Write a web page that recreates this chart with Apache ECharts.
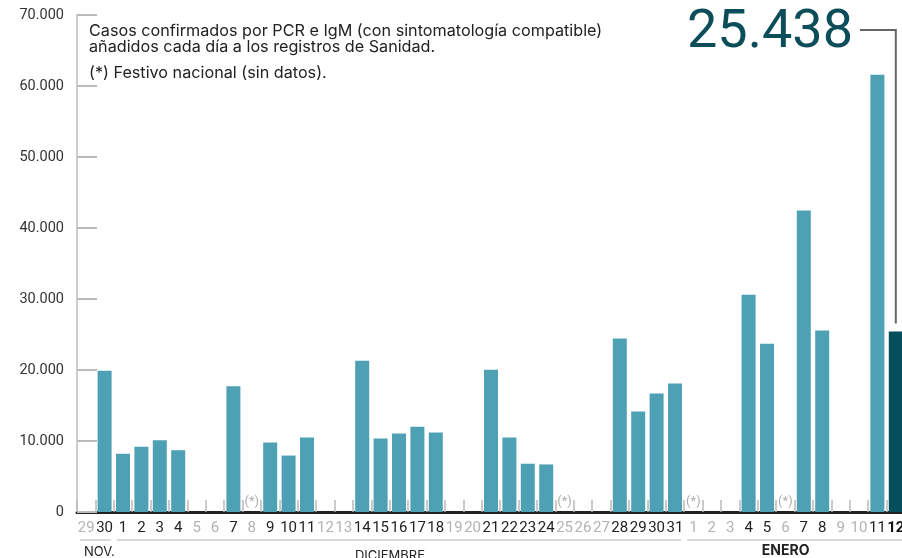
<!DOCTYPE html>
<html>
<head>
<meta charset="utf-8">
<script src="https://cdn.jsdelivr.net/npm/echarts@6/dist/echarts.min.js"></script>
<style>
html,body{margin:0;padding:0;background:#fff;}
#chart{width:902px;height:558px;}
</style>
</head>
<body>
<div id="chart"></div>
<script>
// Day labels (29 Nov 2020 – 12 Jan 2021)
const days = ['29','30',
  '1','2','3','4','5','6','7','8','9','10','11','12','13','14','15','16','17','18','19','20','21','22','23','24','25','26','27','28','29','30','31',
  '1','2','3','4','5','6','7','8','9','10','11','12'];
// New confirmed cases per day (null = no report)
const cases = [null, 19900,
  8200, 9200, 10100, 8700, null, null, 17700, null, 9800, 7950, 10500, null, null,
  21300, 10350, 11050, 12000, 11200, null, null, 20050, 10500, 6800, 6700, null, null, null,
  24450, 14150, 16700, 18100,
  null, null, null, 30600, 23700, null, 42450, 25550, null, null, 61600, 25438];
// National holidays (index in days)
const holidays = [9, 26, 33, 38];
// Month groups
const monthNames = ['NOV.', 'DICIEMBRE', 'ENERO'];
const monthStart = [0, 2, 33];
const monthEnd = [1, 32, 44];
const yTicks = [0, 10000, 20000, 30000, 40000, 50000, 60000, 70000];

const FONT = 'Roboto';
const TFONT = 'Inter';
const fmt = v => String(v).replace(/\B(?=(\d{3})+(?!\d))/g, '.');
const lastIdx = cases.length - 1;

const chart = echarts.init(document.getElementById('chart'));
const option = {
  animation: false,
  backgroundColor: '#fff',
  grid: { left: 77, top: 15, width: 828, height: 497, outerBoundsMode: 'none', containLabel: false },
  xAxis: {
    type: 'category',
    data: days,
    boundaryGap: true,
    axisLine: { show: true, lineStyle: { color: '#222', width: 3 } },
    axisTick: { show: true, inside: true, length: 12, interval: 0, lineStyle: { color: '#bbb', width: 1.5 } },
    axisLabel: {
      interval: 0, margin: 9,
      formatter: (v, i) => i === lastIdx ? '{k|' + v + '}' : (cases[i] == null ? '{g|' + v + '}' : '{b|' + v + '}'),
      rich: {
        g: { color: '#b3b3b3', fontSize: 15, fontFamily: FONT },
        b: { color: '#222', fontSize: 15, fontFamily: FONT },
        k: { color: '#111', fontSize: 15, fontFamily: FONT, fontWeight: 'bold' }
      }
    },
    splitLine: { show: false }
  },
  yAxis: {
    type: 'value', min: yTicks[0], max: yTicks[yTicks.length - 1], interval: yTicks[1] - yTicks[0],
    axisLine: { show: true, lineStyle: { color: '#ccc', width: 2 } },
    axisTick: { show: true, inside: true, length: 20, lineStyle: { color: '#bbb', width: 2 } },
    axisLabel: { margin: 13, color: '#333', fontSize: 14.5, fontFamily: FONT, formatter: v => fmt(v) },
    splitLine: { show: false }
  },
  series: [
    {
      type: 'bar',
      barWidth: 14,
      z: 3,
      itemStyle: { color: '#4ea1b5' },
      data: cases.map((v, i) => i === lastIdx ? { value: v, itemStyle: { color: '#044f5b' } } : v)
    },
    {
      type: 'scatter',
      symbolSize: 0,
      z: 4,
      data: holidays.map(i => [i, 0]),
      label: { show: true, position: 'top', distance: 4, formatter: '(*)', color: '#999', fontSize: 13, fontFamily: FONT }
    }
  ]
};
chart.setOption(option);

// Annotations positioned from axis scales
const px = i => chart.convertToPixel({ xAxisIndex: 0 }, i);
const py = v => chart.convertToPixel({ yAxisIndex: 0 }, v);
const half = 828 / days.length / 2;
const graphics = [];

// Note text
graphics.push({
  type: 'text', left: 89, top: 23, z: 10,
  style: { text: 'Casos confirmados por PCR e IgM (con sintomatología compatible)\nañadidos cada día a los registros de Sanidad.', font: '16.2px ' + TFONT, fill: '#222', lineHeight: 16 }
});
graphics.push({
  type: 'text', left: 89, top: 65, z: 10,
  style: { text: '(*) Festivo nacional (sin datos).', font: '16.2px ' + TFONT, fill: '#222' }
});

// Month brackets and labels
const lineY = 540;
monthNames.forEach((name, m) => {
  const x1 = px(monthStart[m]) - half + 3;
  const x2 = px(monthEnd[m]) + half - 3;
  graphics.push({ type: 'line', z: 10, shape: { x1: x1, y1: lineY, x2: x2, y2: lineY }, style: { stroke: '#ccc', lineWidth: 1.5 } });
  let tx, align, font, ty;
  if (m === 0) { tx = x1 + 4; align = 'left'; font = '13px ' + TFONT; ty = 552; }
  else if (m === 1) { tx = (x1 + x2) / 2 - 9; align = 'center'; font = '13px ' + TFONT; ty = 556; }
  else { tx = (x1 + x2) / 2 - 9; align = 'center'; font = 'bold 14px ' + TFONT; ty = 551; }
  graphics.push({ type: 'text', z: 10, x: tx, y: ty, style: { text: name, font: font, fill: '#222', align: align, verticalAlign: 'middle' } });
});

// Highlight latest value
const lx = px(lastIdx);
const ly = py(cases[lastIdx]);
graphics.push({
  type: 'text', z: 10, x: 853, y: 33,
  style: { text: fmt(cases[lastIdx]), font: '54px ' + FONT, fill: '#0b4d58', align: 'right', verticalAlign: 'middle' }
});
graphics.push({
  type: 'polyline', z: 10,
  shape: { points: [[860, 30], [lx, 30], [lx, ly - 8]] },
  style: { stroke: '#666', lineWidth: 2, fill: null }
});

chart.setOption({ graphic: graphics });
</script>
</body>
</html>
